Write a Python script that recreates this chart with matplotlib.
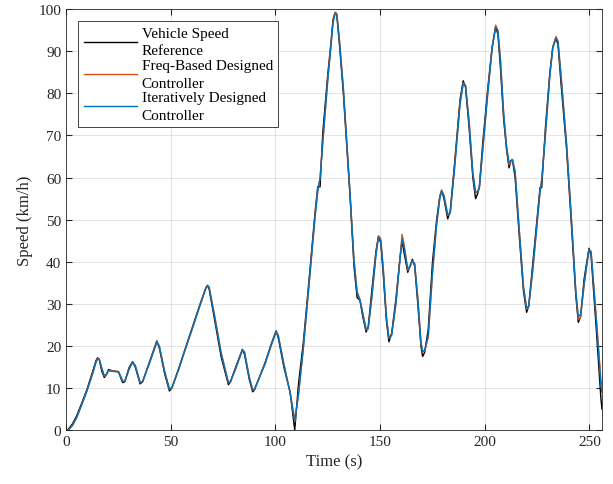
import matplotlib
matplotlib.use("agg")
import matplotlib.pyplot as plt

plt.rcParams.update({
    "font.family": ["Liberation Serif", "DejaVu Serif"],
    "font.size": 11,
    "mathtext.fontset": "stix",
})

# time knots (s) and speeds (km/h)
t = [0, 1, 3, 5, 7.5, 10, 13, 14.2, 15, 15.8, 17, 18.2, 19.2, 20.2, 22, 25, 26, 27, 28, 30,
     31.7, 33, 35.3, 36.5, 40, 43.3, 44.5, 47, 49.3, 50.5, 54, 56.3, 60, 64, 66.7, 67.5, 68.3, 71, 74, 77.5,
     78.5, 81, 84.2, 85.2, 87.5, 89.1, 90, 95, 98, 100.3, 101.3, 104, 107, 109.2, 111, 113.3, 116, 118.9, 120.2, 121.3,
     122.6, 125, 126.5, 127.5, 128.5, 129.3, 130.5, 132.4, 134, 135.6, 137.5, 139, 140.4, 141.5, 143.3, 144.3, 146, 148, 149.2, 150.3,
     151.5, 153, 154.2, 155.5, 157.5, 159.5, 160.5, 161.5, 163.2, 164.3, 165.4, 166.5, 168, 169.5, 170.3, 171.3, 173, 175, 177, 178.5,
     179.4, 180.5, 182.3, 183.5, 185.5, 188.2, 189.7, 190.8, 192.5, 194.3, 195.6, 196.5, 197.4, 199, 201.4, 203.5, 205.2, 206.3, 207.5, 209,
     210.4, 211.6, 212.5, 213.2, 214.5, 216.5, 218.5, 220, 221, 223, 226.4, 227.2, 229, 231.1, 232.5, 234, 235, 236.5, 239.1, 241.5,
     243.5, 244.7, 245.8, 247.5, 249.8, 250.8, 252, 253.4, 255.5, 256]

v_ref = [0, 0.2, 1.5, 3.4, 6.5, 9.8, 14.5, 16.5, 17.2, 16.8, 14, 12.5, 13.2, 14.4, 14.1, 13.9, 12.5, 11.3, 11.5, 14.8,
         16.3, 15, 11, 11.5, 16.5, 21.2, 19.5, 13.5, 9.3, 10, 15, 18.5, 24, 30, 33.8, 34.4, 33.5, 26, 17.5, 10.8,
         11.5, 15, 19.2, 18, 12, 9.1, 9.6, 16, 20.5, 23.6, 22, 15, 9, 0, 11, 20.8, 35.5, 51.7, 57.8, 57.8,
         70.7, 84.6, 92, 97.5, 99.2, 98.5, 92, 80.2, 68, 55.7, 39, 31.5, 30.8, 27.5, 23.3, 24.5, 33, 42.5, 46, 44.5,
         37, 26, 21, 23, 31, 41, 45, 42, 37.5, 39, 40.6, 39, 30, 20, 17.5, 18.5, 24, 39.8, 50, 55.5,
         57, 55, 50.2, 52, 63, 78.6, 83, 81.5, 72, 60, 55, 56, 57.7, 68, 81, 91, 95.8, 94, 86, 74,
         66.7, 62.3, 64, 64.3, 60, 46, 33, 28, 29.5, 40, 57.6, 57.6, 72, 85, 91, 93.2, 91.5, 82, 66.7, 48,
         32, 25.6, 27, 36, 43.2, 41.5, 33, 23.2, 7.5, 5]

v_freq = [0, 0, 1.2, 3.0, 6.2, 9.5, 14.1, 16.2, 17.0, 16.9, 14.8, 12.8, 13.2, 14.2, 14.1, 13.9, 12.8, 11.6, 11.6, 14.5,
          16.2, 15.4, 11.3, 11.5, 16.3, 21.0, 20.0, 14.0, 9.7, 10, 14.8, 18.4, 23.8, 29.8, 33.7, 34.4, 34.0, 27, 18.5, 11.2,
          11.5, 14.7, 19.1, 18.6, 12.6, 9.5, 9.7, 15.8, 20.3, 23.4, 22.6, 15.8, 8.8, 2.0, 8.5, 19.5, 34.5, 50.8, 57.0, 60.0,
          68.5, 83.5, 91.5, 97.2, 99.3, 99.0, 93.0, 81.5, 69.0, 56.5, 40.5, 33.0, 31.0, 28.3, 23.8, 24.0, 31.5, 41.8, 46.2, 45.5,
          38.5, 27.0, 21.8, 22.5, 30.0, 41.0, 46.5, 44.0, 38.0, 38.8, 40.3, 39.6, 31.5, 21.0, 18.5, 18.8, 22.0, 37.0, 49.0, 55.3,
          57.0, 55.8, 51.0, 51.5, 62.0, 77.8, 82.5, 82.0, 73.5, 61.0, 56.3, 56.5, 57.5, 66.5, 80.0, 90.8, 96.2, 95.0, 88.0, 75.5,
          67.5, 63.0, 63.8, 64.3, 61.5, 47.5, 34.0, 28.7, 29.2, 38.5, 56.8, 59.5, 70.5, 84.5, 91.0, 93.5, 92.5, 84.0, 68.0, 49.5,
          33.0, 26.3, 26.8, 34.5, 43.0, 42.5, 35.0, 26.0, 12.0, 10.5]

v_iter = [0, 0, 1.1, 3.0, 6.1, 9.4, 14.0, 16.1, 16.9, 16.8, 14.6, 12.9, 13.3, 14.1, 14.0, 13.8, 12.8, 11.6, 11.6, 14.4,
          16.1, 15.3, 11.4, 11.5, 16.2, 20.9, 19.9, 14.0, 9.8, 10.1, 14.8, 18.3, 23.7, 29.7, 33.6, 34.3, 33.9, 26.8, 18.3, 11.4,
          11.6, 14.6, 19.0, 18.5, 12.5, 9.6, 9.8, 15.7, 20.2, 23.3, 22.5, 15.6, 8.9, 2.4, 8.5, 19.4, 34.3, 50.6, 56.8, 59.8,
          68.3, 83.3, 91.2, 96.8, 99.0, 98.7, 92.8, 81.3, 68.8, 56.4, 40.3, 32.6, 30.8, 28.2, 24.0, 24.3, 31.3, 41.5, 45.8, 45.0,
          38.2, 26.8, 22.0, 22.6, 29.8, 40.5, 45.5, 43.3, 38.3, 38.9, 40.2, 39.5, 31.2, 20.8, 18.7, 19.0, 22.5, 37.5, 48.8, 55.0,
          56.7, 55.6, 51.2, 51.6, 61.8, 77.5, 82.2, 81.8, 73.2, 61.2, 56.5, 56.7, 57.6, 66.3, 79.8, 90.5, 95.8, 94.7, 87.7, 75.3,
          67.3, 63.5, 64.0, 64.2, 61.3, 47.3, 34.0, 29.0, 29.5, 38.3, 56.5, 59.3, 70.3, 84.2, 90.7, 93.1, 92.2, 83.7, 67.8, 49.3,
          33.0, 27.0, 27.5, 35.0, 42.8, 42.3, 34.5, 25.5, 10.5, 9.0]

labels = ["Vehicle Speed\nReference", "Freq-Based Designed\nController", "Iteratively Designed\nController"]
colors = ["black", "#D95319", "#0072BD"]

fig = plt.figure(figsize=(6.13, 4.85), dpi=100)
ax = fig.add_axes([0.108, 0.111, 0.874, 0.868])

for v, lab, c in zip([v_ref, v_freq, v_iter], labels, colors):
    ax.plot(t, v, color=c, lw=1.0, label=lab)

ax.set_xlim(0, 256)
ax.set_ylim(0, 100)
ax.set_xticks(range(0, 251, 50))
ax.set_yticks(range(0, 101, 10))
ax.grid(True, color="black", alpha=0.12, lw=0.6)
ax.tick_params(direction="in", top=True, right=True, length=4, colors="#262626", labelsize=11)
for s in ax.spines.values():
    s.set_color("#262626")
    s.set_linewidth(0.6)
ax.set_xlabel("Time (s)", fontsize=12, color="#262626")
ax.set_ylabel("Speed (km/h)", fontsize=12, color="#262626")

lgd = ax.legend(loc="upper left", fontsize=11, fancybox=False, framealpha=1, edgecolor="#262626",
                handlelength=3.5, handletextpad=0.3, borderaxespad=0.8, labelspacing=0.12,
                borderpad=0.35)
for txt in lgd.get_texts():
    txt.set_linespacing(1.45)
lgd.get_frame().set_linewidth(0.6)

fig.savefig("out.png", dpi=100)
